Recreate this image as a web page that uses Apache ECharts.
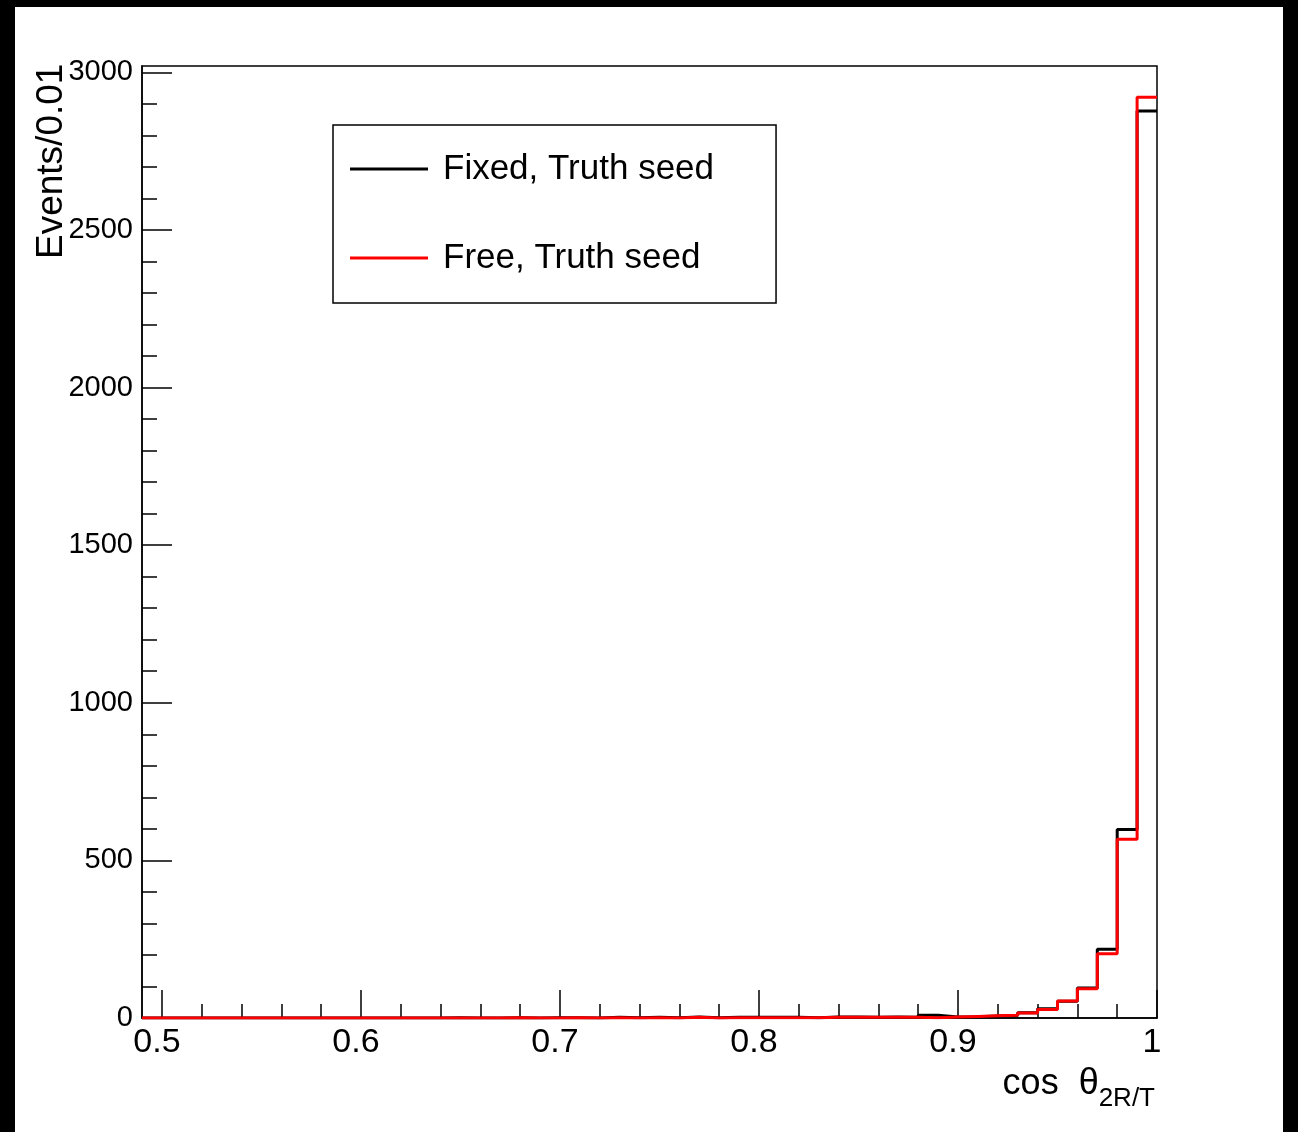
<!DOCTYPE html>
<html>
<head>
<meta charset="utf-8">
<script src="https://cdn.jsdelivr.net/npm/echarts@6/dist/echarts.min.js"></script>
<style>
  html, body { margin: 0; padding: 0; background: #000; width: 1298px; height: 1132px; overflow: hidden; }
  #paper { position: absolute; left: 15px; top: 7px; width: 1268px; height: 1125px; background: #fff; }
  #chart { position: absolute; left: 0; top: 0; width: 1298px; height: 1132px; }
</style>
</head>
<body>
<div id="paper"></div>
<div id="chart"></div>
<script>
// Bin low edges of the histogram (width 0.01), from 0.49 to 0.99
const binLowEdges = [0.49,0.50,0.51,0.52,0.53,0.54,0.55,0.56,0.57,0.58,0.59,
  0.60,0.61,0.62,0.63,0.64,0.65,0.66,0.67,0.68,0.69,
  0.70,0.71,0.72,0.73,0.74,0.75,0.76,0.77,0.78,0.79,
  0.80,0.81,0.82,0.83,0.84,0.85,0.86,0.87,0.88,0.89,
  0.90,0.91,0.92,0.93,0.94,0.95,0.96,0.97,0.98,0.99];
const xMax = 1.0;

// Events per bin: "Fixed, Truth seed" (black)
const fixedTruth = [0,0,0,0,0,0,0,0,0,0,0,
  0,0,0,0,1,0,0,1,0,1,
  1,0,2,1,2,1,3,1,2,2,
  2,2,1,3,3,2,3,2,9,3,
  4,6,8,17,29,53,95,218,598,2877];

// Events per bin: "Free, Truth seed" (red)
const freeTruth = [0,0,0,0,0,0,0,0,0,0,0,
  0,0,0,0,0,0,0,1,0,0,
  1,0,1,0,1,0,2,0,1,1,
  1,1,1,2,2,2,2,2,1,3,
  5,7,9,16,27,54,93,204,567,2921];

const xMajorTicks = [0.5, 0.6, 0.7, 0.8, 0.9, 1.0];
const xMinorTicks = [0.52,0.54,0.56,0.58,0.62,0.64,0.66,0.68,0.72,0.74,0.76,0.78,0.82,0.84,0.86,0.88,0.92,0.94,0.96,0.98];
const yMajorTicks = [0, 500, 1000, 1500, 2000, 2500, 3000];
const yMinorTicks = [100,200,300,400,600,700,800,900,1100,1200,1300,1400,1600,1700,1800,1900,2100,2200,2300,2400,2600,2700,2800,2900];

function stepData(vals) {
  const pts = vals.map((v, i) => [binLowEdges[i], v]);
  pts.push([xMax, vals[vals.length - 1]]);
  return pts;
}

const FONT = '"Liberation Sans", Arial, Helvetica, sans-serif';
const chart = echarts.init(document.getElementById('chart'), null, { renderer: 'canvas' });
const lw = 1.5;

chart.setOption({
  animation: false,
  backgroundColor: 'transparent',
  textStyle: { fontFamily: FONT, color: '#000' },
  grid: { left: 142, top: 66, right: 141, bottom: 114, show: true, borderColor: '#000', borderWidth: lw,
    backgroundColor: 'transparent', containLabel: false, outerBoundsMode: 'none' },
  legend: {
    left: 333, top: 125,
    orient: 'vertical',
    backgroundColor: '#fff',
    borderColor: '#000', borderWidth: 1.5,
    padding: [24, 62, 25, 17],
    itemWidth: 78, itemHeight: 3, itemGap: 49,
    icon: 'rect',
    textStyle: { fontSize: 35, fontFamily: FONT, color: '#000', lineHeight: 40, padding: [0, 0, 0, 10] },
    data: ['Fixed, Truth seed', 'Free, Truth seed']
  },
  xAxis: [
    {
      type: 'value', min: 0.49, max: xMax, position: 'bottom',
      name: '{a|cos  θ}{b|2R/T}', nameLocation: 'end', nameGap: -2, nameMoveOverlap: false,
      nameTextStyle: {
        align: 'right', verticalAlign: 'top', padding: [38, 0, 0, 0],
        rich: {
          a: { fontSize: 36, fontFamily: FONT, color: '#000' },
          b: { fontSize: 26, fontFamily: FONT, color: '#000', padding: [30, 0, 0, 0] }
        }
      },
      axisLine: { show: true, onZero: false, lineStyle: { color: '#000', width: lw } },
      axisTick: { show: true, inside: true, length: 28, customValues: xMajorTicks, lineStyle: { color: '#000', width: lw } },
      axisLabel: { show: true, customValues: xMajorTicks, fontSize: 34, color: '#000', fontFamily: FONT, margin: 8,
        padding: [0, 10, 0, 0],
        formatter: v => (Math.abs(v - 1) < 1e-9 ? '1' : v.toFixed(1)) },
      splitLine: { show: false }
    },
    {
      type: 'value', min: 0.49, max: xMax, position: 'bottom', offset: 0,
      axisLine: { show: false },
      axisTick: { show: true, inside: true, length: 14, customValues: xMinorTicks, lineStyle: { color: '#000', width: lw } },
      axisLabel: { show: false, customValues: xMinorTicks },
      splitLine: { show: false }
    }
  ],
  yAxis: [
    {
      type: 'value', min: 0, max: 3020, position: 'left',
      name: 'Events/0.01', nameLocation: 'end', nameRotate: 90, nameGap: -193, nameMoveOverlap: false,
      nameTextStyle: { fontSize: 37, fontFamily: FONT, color: '#000', align: 'left', verticalAlign: 'bottom', padding: [0, 0, 72, 0] },
      axisLine: { show: true, onZero: false, lineStyle: { color: '#000', width: lw } },
      axisTick: { show: true, inside: true, length: 30, customValues: yMajorTicks, lineStyle: { color: '#000', width: lw } },
      axisLabel: { show: true, customValues: yMajorTicks, fontSize: 29, color: '#000', fontFamily: FONT, margin: 9,
        formatter: v => String(Math.round(v)) },
      splitLine: { show: false }
    },
    {
      type: 'value', min: 0, max: 3020, position: 'left', offset: 0,
      axisLine: { show: false },
      axisTick: { show: true, inside: true, length: 15, customValues: yMinorTicks, lineStyle: { color: '#000', width: lw } },
      axisLabel: { show: false, customValues: yMinorTicks },
      splitLine: { show: false }
    }
  ],
  series: [
    {
      name: 'Fixed, Truth seed', type: 'line', step: 'end', xAxisIndex: 0, yAxisIndex: 0,
      data: stepData(fixedTruth), symbol: 'none', clip: true,
      color: '#000', lineStyle: { color: '#000', width: 3 }, z: 2
    },
    {
      name: 'Free, Truth seed', type: 'line', step: 'end', xAxisIndex: 0, yAxisIndex: 0,
      data: stepData(freeTruth), symbol: 'none', clip: true,
      color: '#ff0000', lineStyle: { color: '#ff0000', width: 3 }, z: 3
    }
  ]
});
</script>
</body>
</html>
